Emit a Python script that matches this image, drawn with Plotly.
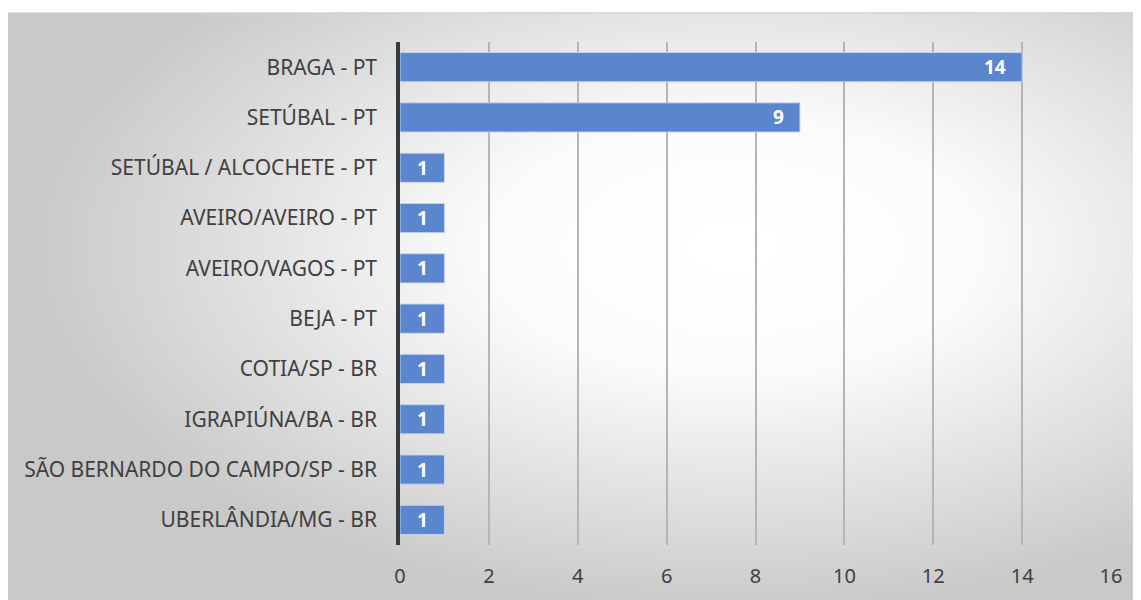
import plotly.graph_objects as go
import base64

categories = ["BRAGA - PT", "SETÚBAL - PT", "SETÚBAL / ALCOCHETE - PT", "AVEIRO/AVEIRO - PT",
              "AVEIRO/VAGOS - PT", "BEJA - PT", "COTIA/SP - BR", "IGRAPIÚNA/BA - BR",
              "SÃO BERNARDO DO CAMPO/SP - BR", "UBERLÂNDIA/MG - BR"]
values = [14, 9, 1, 1, 1, 1, 1, 1, 1, 1]
x_ticks = [0, 2, 4, 6, 8, 10, 12, 14, 16]

# page has an 8px body margin; figure sized to fit
W, H = 1133, 592
L, R, T, B = 392, 30, 34, 55
pw, ph = W - L - R, H - T - B

svg = ('<svg xmlns="http://www.w3.org/2000/svg" width="1133" height="587" viewBox="0 0 1133 587" preserveAspectRatio="none">'
       '<defs><radialGradient id="g" cx="0.64" cy="0.40" r="0.62" gradientUnits="objectBoundingBox">'
       '<stop offset="0" stop-color="#ffffff"/><stop offset="0.35" stop-color="#fbfbfb"/>'
       '<stop offset="1" stop-color="#c9c9c9"/></radialGradient></defs>'
       '<rect width="1133" height="587" fill="url(#g)"/></svg>')
src = "data:image/svg+xml;base64," + base64.b64encode(svg.encode()).decode()

def px_x(p):
    return (p - L) / pw

def px_y(p):
    return (H - B - p) / ph

fig = go.Figure()
fig.add_trace(go.Bar(
    x=values, y=categories, orientation="h",
    marker=dict(color="#5b85cc", line=dict(color="rgba(200,215,240,0.9)", width=1)),
    width=0.58, hoverinfo="skip",
))

for v, c in zip(values, categories):
    fig.add_annotation(x=v, y=c, text=f"<b>{v}</b>", showarrow=False,
                       xanchor="right", xshift=-14,
                       font=dict(family="Noto Sans", size=19, color="white"))

fig.add_layout_image(dict(source=src, xref="paper", yref="paper",
                          x=px_x(0), y=px_y(5), sizex=px_x(W) - px_x(0), sizey=px_y(5) - px_y(H),
                          xanchor="left", yanchor="top", sizing="stretch", layer="below"))
fig.add_shape(type="line", xref="paper", yref="paper", x0=px_x(0), x1=px_x(W), y0=px_y(5), y1=px_y(5),
              line=dict(color="#d0d0d0", width=1.5))

fig.update_layout(
    width=W, height=H,
    margin=dict(l=L, r=R, t=T, b=B),
    paper_bgcolor="white", plot_bgcolor="rgba(0,0,0,0)",
    showlegend=False,
    font=dict(family="Noto Sans", color="#404040"),
    xaxis=dict(range=[0, 16], tickvals=x_ticks, showgrid=True, gridcolor="#b5b5b5", gridwidth=1.5,
               zeroline=False, showline=False, ticks="", tickfont=dict(size=20, color="#404040"),
               ticklabelstandoff=17, fixedrange=True),
    yaxis=dict(categoryorder="array", categoryarray=categories, autorange="reversed",
               showgrid=False, zeroline=False, showline=True, linecolor="#3a3a3a", linewidth=3.5,
               ticks="", tickfont=dict(size=21, color="#404040"), ticklabelstandoff=15,
               fixedrange=True),
)

fig.write_html("out.html")
